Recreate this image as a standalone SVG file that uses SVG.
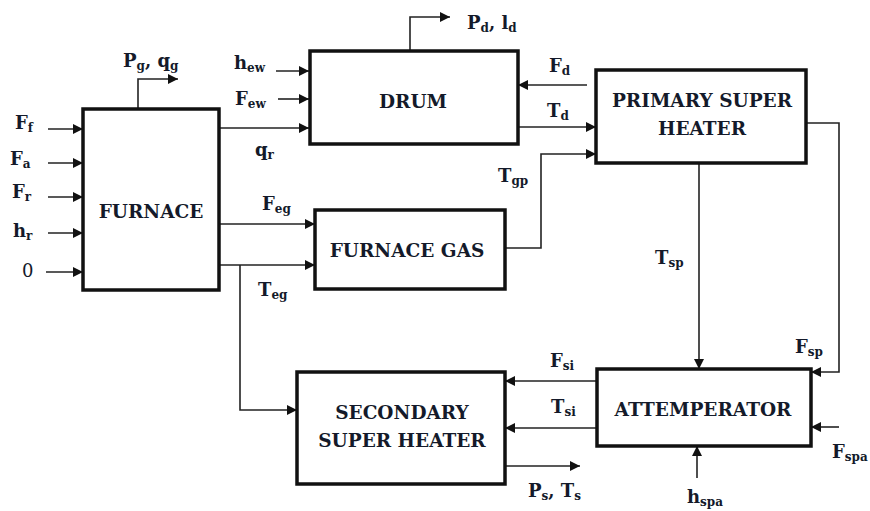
<svg xmlns="http://www.w3.org/2000/svg" width="870" height="511" viewBox="0 0 870 511">
<defs>
<marker id="ah" viewBox="0 0 10 10" refX="10" refY="5" markerWidth="10" markerHeight="10" markerUnits="userSpaceOnUse" orient="auto">
<path d="M0,0 L10,5 L0,10 Z" fill="#111"/>
</marker>
</defs>
<style>
.box{fill:#fff;stroke:#111;stroke-width:3.5}
.bt{font-weight:bold;font-size:18.5px;fill:#141a2a;text-anchor:middle}
.lb{font-weight:bold;font-size:18px;fill:#141a2a}
.sb{font-size:12px}
.ar{fill:none;stroke:#222;stroke-width:1.6;marker-end:url(#ah)}
</style>
<rect width="870" height="511" fill="#fff"/>
<g id="connectors">
<path class="ar" d="M138,109 V79 H178"/>
<path class="ar" d="M48,129 H83"/>
<path class="ar" d="M48,163 H83"/>
<path class="ar" d="M48,197 H83"/>
<path class="ar" d="M48,233 H83"/>
<path class="ar" d="M46,272 H83"/>
<path class="ar" d="M276,71 H309"/>
<path class="ar" d="M278,99 H309"/>
<path class="ar" d="M219,128 H309"/>
<path class="ar" d="M410,51 V17 H450"/>
<path class="ar" d="M587,85 H518"/>
<path class="ar" d="M518,127 H596"/>
<path class="ar" d="M505,248 H541 V154 H596"/>
<path class="ar" d="M219,224 H315"/>
<path class="ar" d="M219,265 H315"/>
<path class="ar" d="M240,265 V410 H297"/>
<path class="ar" d="M699,163 V369"/>
<path class="ar" d="M806,123 H839 V372 H811"/>
<path class="ar" d="M597,381 H505"/>
<path class="ar" d="M597,428 H505"/>
<path class="ar" d="M505,466 H580"/>
<path class="ar" d="M839,427 H811"/>
<path class="ar" d="M697,478 V446"/>
</g>
<g font-family="'DejaVu Serif', 'Liberation Serif', 'Noto Serif', serif">
<g id="furnace">
<rect class="box" x="83" y="109" width="136" height="181"/>
<text class="bt" x="151" y="218">FURNACE</text>
</g>
<g id="drum">
<rect class="box" x="310" y="51" width="208" height="93"/>
<text class="bt" x="413" y="108">DRUM</text>
</g>
<g id="primary">
<rect class="box" x="596" y="70" width="210" height="93"/>
<text class="bt" x="702" y="107">PRIMARY SUPER</text>
<text class="bt" x="702" y="135">HEATER</text>
</g>
<g id="furnacegas">
<rect class="box" x="315" y="210" width="190" height="79"/>
<text class="bt" x="407" y="257">FURNACE GAS</text>
</g>
<g id="secondary">
<rect class="box" x="297" y="372" width="208" height="112"/>
<text class="bt" x="402" y="419">SECONDARY</text>
<text class="bt" x="402" y="447">SUPER HEATER</text>
</g>
<g id="attemperator">
<rect class="box" x="597" y="369" width="214" height="77"/>
<text class="bt" x="703" y="416">ATTEMPERATOR</text>
</g>
<g id="labels">
<text class="lb" x="123" y="67">P<tspan class="sb" dy="3">g</tspan><tspan dy="-3">, q</tspan><tspan class="sb" dy="3">g</tspan></text>
<text class="lb" x="15" y="129">F<tspan class="sb" dy="3">f</tspan></text>
<text class="lb" x="10" y="165">F<tspan class="sb" dy="3">a</tspan></text>
<text class="lb" x="12" y="198">F<tspan class="sb" dy="3">r</tspan></text>
<text class="lb" x="13" y="237">h<tspan class="sb" dy="3">r</tspan></text>
<text class="lb" x="22" y="277" style="font-weight:normal">0</text>
<text class="lb" x="234" y="69">h<tspan class="sb" dy="3">ew</tspan></text>
<text class="lb" x="235" y="105">F<tspan class="sb" dy="3">ew</tspan></text>
<text class="lb" x="255" y="156">q<tspan class="sb" dy="3">r</tspan></text>
<text class="lb" x="262" y="210">F<tspan class="sb" dy="3">eg</tspan></text>
<text class="lb" x="258" y="296">T<tspan class="sb" dy="3">eg</tspan></text>
<text class="lb" x="467" y="29">P<tspan class="sb" dy="3">d</tspan><tspan dy="-3">, l</tspan><tspan class="sb" dy="3">d</tspan></text>
<text class="lb" x="549" y="72">F<tspan class="sb" dy="3">d</tspan></text>
<text class="lb" x="547" y="117">T<tspan class="sb" dy="3">d</tspan></text>
<text class="lb" x="498" y="182">T<tspan class="sb" dy="3">gp</tspan></text>
<text class="lb" x="655" y="264">T<tspan class="sb" dy="3">sp</tspan></text>
<text class="lb" x="795" y="353">F<tspan class="sb" dy="3">sp</tspan></text>
<text class="lb" x="550" y="367">F<tspan class="sb" dy="3">si</tspan></text>
<text class="lb" x="551" y="413">T<tspan class="sb" dy="3">si</tspan></text>
<text class="lb" x="528" y="497">P<tspan class="sb" dy="3">s</tspan><tspan dy="-3">, T</tspan><tspan class="sb" dy="3">s</tspan></text>
<text class="lb" x="687" y="503">h<tspan class="sb" dy="3">spa</tspan></text>
<text class="lb" x="832" y="458">F<tspan class="sb" dy="3">spa</tspan></text>
</g>
</g>
</svg>
